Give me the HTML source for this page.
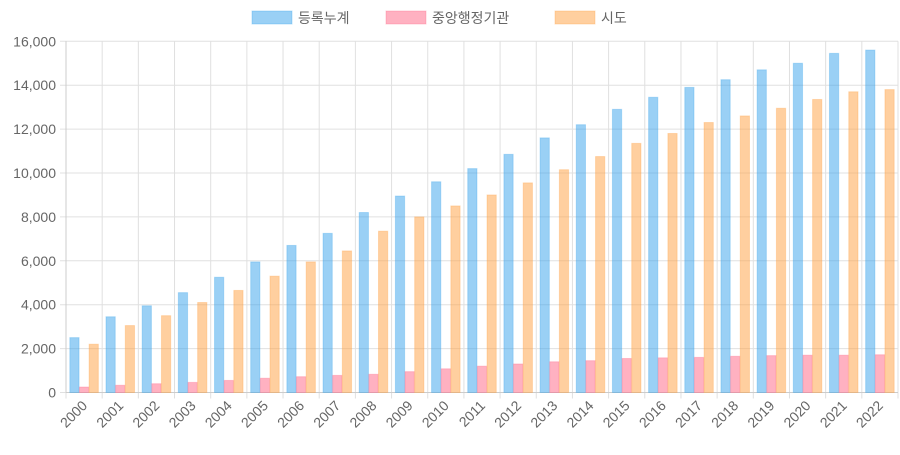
<!DOCTYPE html>
<html><head><meta charset="utf-8"><style>
body{margin:0;background:#fff;font-family:"Liberation Sans","Noto Sans CJK KR",sans-serif}
</style></head><body>
<svg id="c" width="900" height="450" xmlns="http://www.w3.org/2000/svg" font-family="Liberation Sans, Noto Sans CJK KR, sans-serif"></svg>
<script>
const categories=["2000","2001","2002","2003","2004","2005","2006","2007","2008","2009","2010","2011","2012","2013","2014","2015","2016","2017","2018","2019","2020","2021","2022"];
const totalValues=[2500,3450,3950,4550,5250,5950,6700,7250,8200,8950,9600,10200,10850,11600,12200,12900,13450,13900,14250,14700,15000,15450,15600];
const centralValues=[250,330,400,460,550,650,720,780,830,950,1080,1200,1300,1400,1450,1550,1580,1600,1650,1680,1700,1700,1720];
const regionalValues=[2200,3050,3500,4100,4650,5300,5950,6450,7350,8000,8500,9000,9550,10150,10750,11350,11800,12300,12600,12950,13350,13700,13800];
const yTicks=[0,2000,4000,6000,8000,10000,12000,14000,16000];
const seriesNames=["등록누계","중앙행정기관","시도"];
const svg=document.getElementById('c');const NS="http://www.w3.org/2000/svg";
const L=66,R=898,T=41.3,B=392.5,yMax=16000;
const y=v=>B-(v/yMax)*(B-T);
const step=(R-L)/categories.length;
const x=i=>L+i*step;
function el(t,a,p){const e=document.createElementNS(NS,t);for(const k in a)e.setAttribute(k,a[k]);(p||svg).appendChild(e);return e;}
const series=[{v:totalValues,f:"rgba(54,162,235,0.5)",s:"rgba(54,162,235,0.3)"},{v:centralValues,f:"rgba(255,99,132,0.5)",s:"rgba(255,99,132,0.3)"},{v:regionalValues,f:"rgba(255,159,64,0.5)",s:"rgba(255,159,64,0.3)"}];
yTicks.forEach(t=>{const g=el('line',{x1:L-6,x2:R,y1:y(t),y2:y(t),stroke:"#e0e0e0","stroke-width":1});

const tx=el('text',{x:L-10,y:y(t)+5,"text-anchor":"end","font-size":14,fill:"#666"});tx.textContent=t.toLocaleString('en-US');
});
for(let i=0;i<=categories.length;i++){const g=el('line',{x1:x(i),x2:x(i),y1:T,y2:B+6,stroke:"#e0e0e0","stroke-width":1});
}
el('line',{x1:L,x2:L,y1:T,y2:B,stroke:"#ccc"});el('line',{x1:L,x2:R,y1:B,y2:B,stroke:"#ccc"});
const grp=step*0.8,bw=grp/3-0.4;
categories.forEach((c,i)=>{
series.forEach((s,j)=>{const bx=x(i)+step*0.1+j*grp/3+0.2;const v=s.v[i];
const r=el('rect',{x:bx,y:y(v),width:bw,height:B-y(v),fill:s.f,stroke:s.s,"stroke-width":1});
});
const cx=x(i)+step/2+4,cy=B+14;
const t=el('text',{x:cx,y:cy,"text-anchor":"end","font-size":14,fill:"#666",transform:`rotate(-45 ${cx} ${cy})`});t.textContent=c;
});
const lx=[252,386,555];
seriesNames.forEach((n,j)=>{const g=el('g',{});
el('rect',{x:lx[j],y:11,width:40,height:13,fill:series[j].f,stroke:series[j].s},g);
const t=el('text',{x:lx[j]+46,y:23,"font-size":14,fill:"#666"},g);t.textContent=n;});
</script></body></html>
